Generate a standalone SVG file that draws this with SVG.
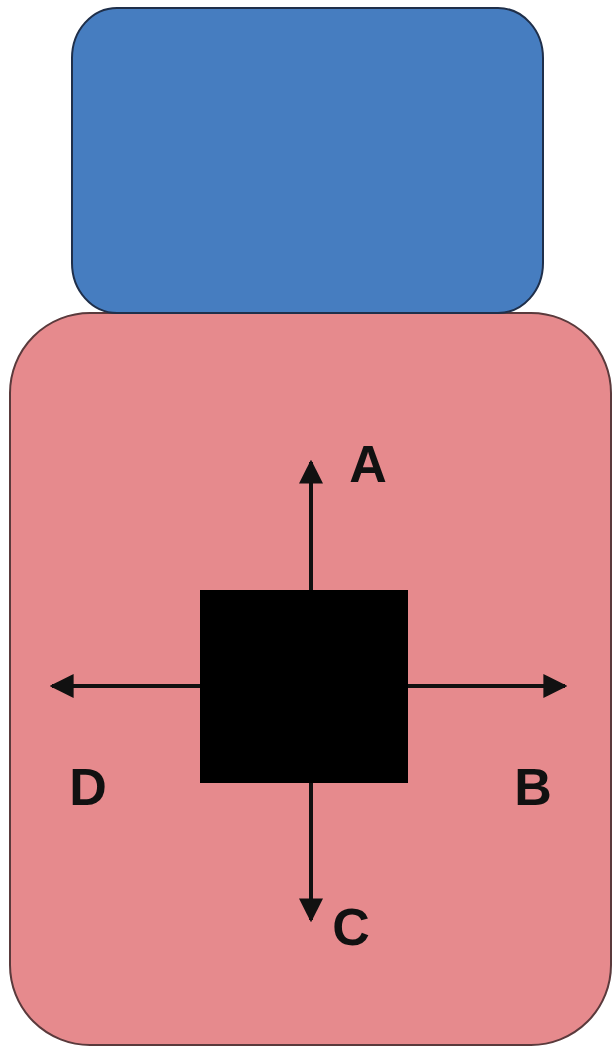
<svg xmlns="http://www.w3.org/2000/svg" width="614" height="1049" viewBox="0 0 614 1049">
  <style>
    .lbl { font-family: "Liberation Sans", Arial, sans-serif; font-weight: bold; font-size: 52px; fill: #111; }
    .arrow { stroke: #111; stroke-width: 4; fill: none; marker-end: url(#head); }
  </style>
  <defs>
    <marker id="head" viewBox="0 0 10 10" refX="9" refY="5" markerWidth="6" markerHeight="6" markerUnits="strokeWidth" orient="auto">
      <path d="M0,0 L10,5 L0,10 Z" fill="#111"/>
    </marker>
  </defs>
  <rect width="614" height="1049" fill="#ffffff"/>

  <g id="body">
    <rect x="10" y="313" width="601" height="732" rx="80" ry="80" fill="#E68A8D" stroke="#5a3a3c" stroke-width="2"/>
  </g>
  <g id="cap">
    <rect x="72" y="8" width="471" height="305" rx="45" ry="50" fill="#467DC0" stroke="#1f2f4a" stroke-width="2"/>
  </g>
  <g id="block">
    <rect x="200" y="590" width="208" height="193" fill="#000000"/>
  </g>

  <g id="connectors">
    <line class="arrow" x1="311" y1="590" x2="311" y2="462"/>
    <line class="arrow" x1="408" y1="686" x2="565" y2="686"/>
    <line class="arrow" x1="311" y1="783" x2="311" y2="920"/>
    <line class="arrow" x1="200" y1="686" x2="52" y2="686"/>
  </g>

  <g id="labels">
    <text class="lbl" x="368" y="482" text-anchor="middle">A</text>
    <text class="lbl" x="533" y="805" text-anchor="middle">B</text>
    <text class="lbl" x="351" y="945" text-anchor="middle">C</text>
    <text class="lbl" x="88" y="805" text-anchor="middle">D</text>
  </g>
</svg>
